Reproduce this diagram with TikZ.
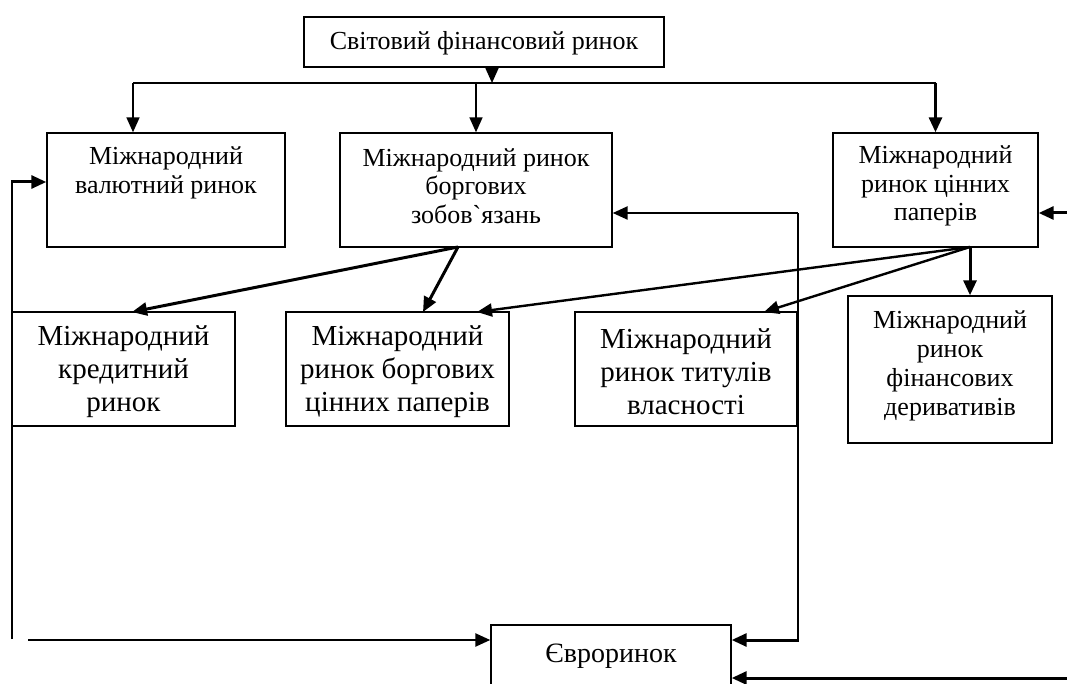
\documentclass[tikz,border=0pt]{standalone}
\usepackage{fontspec}
\setmainfont{Liberation Serif}
\usetikzlibrary{arrows.meta}
\begin{document}
\begin{tikzpicture}[x=1pt,y=-1pt,
  box/.style={draw, line width=1.4pt, inner sep=0pt},
  lbl/.style={align=center, inner sep=0pt},
  fa/.style={font=\fontsize{26}{28.5}\selectfont},
  fb/.style={font=\fontsize{29}{33}\selectfont},
  fc/.style={font=\fontsize{26}{29}\selectfont},
  fd/.style={font=\fontsize{28}{30}\selectfont},
  thinln/.style={line width=1.7pt},
  midln/.style={line width=2.4pt},
  thickln/.style={line width=3pt},
  arr/.style={-{Triangle[length=15pt,width=13pt]}}]
\useasboundingbox (0,0) rectangle (1067,684);
\clip (0,0) rectangle (1067,684);
% boxes
\node[box, minimum width=360pt, minimum height=50pt] (top) at (484,42) {};
\node[box, minimum width=238pt, minimum height=114pt] (b1) at (166,190) {};
\node[box, minimum width=272pt, minimum height=114pt] (b2) at (476,190) {};
\node[box, minimum width=205pt, minimum height=114pt] (b3) at (935.5,190) {};
\node[box, minimum width=223pt, minimum height=114pt] (b4) at (123.5,369) {};
\node[box, minimum width=223pt, minimum height=114pt] (b5) at (397.5,369) {};
\node[box, minimum width=222pt, minimum height=114pt] (b6) at (686,369) {};
\node[box, minimum width=204pt, minimum height=147pt] (b7) at (950,369.5) {};
\node[box, minimum width=240pt, minimum height=63pt] (eu) at (611,656.5) {};
% texts
\node[lbl, fa] (topt) at (484,43) {Світовий фінансовий ринок};
\node[lbl, fa] (b1t) at (166,173) {Міжнародний\\валютний ринок};
\node[lbl, fa] (b2t) at (476,186) {Міжнародний ринок\\боргових\\зобов\textasciigrave язань};
\node[lbl, fa] (b3t) at (935.5,186) {Міжнародний\\ринок цінних\\паперів};
\node[lbl, fb] (b4t) at (123.5,372) {Міжнародний\\кредитний\\ринок};
\node[lbl, fb] (b5t) at (397.5,372) {Міжнародний\\ринок боргових\\цінних паперів};
\node[lbl, fb] (b6t) at (686,372) {Міжнародний\\ринок титулів\\власності};
\node[lbl, fc] (b7t) at (950,366) {Міжнародний\\ринок\\фінансових\\деривативів};
\node[lbl, fd] (eut) at (611,656) {Євроринок};
% coordinates
\coordinate (busL) at (133,83);
\coordinate (busR) at (935.5,83);
\coordinate (busT) at (492,83);
\coordinate (la) at (12,182);
\coordinate (lz) at (12,639);
\coordinate (lb) at (28,640);
\coordinate (rc) at (798,213);
\coordinate (rd) at (798,640);
\coordinate (ra) at (1067,213);
\coordinate (rb) at (1067,678);
\coordinate (s2) at (458,247);
\coordinate (s3) at (970,247);
\coordinate (t4) at (132,312);
\coordinate (t5a) at (423,312);
\coordinate (t5b) at (477,312);
\coordinate (t6) at (764,312);
% top distribution
\draw[thinln, arr] (busT |- top.south) -- (busT);
\draw[thinln] (busL) -- (busR);
\draw[thinln, arr] (busL) -- (busL |- b1.north);
\draw[thinln, arr] (b2.north |- busL) -- (b2.north);
\draw[thickln, arr] (busR) -- (b3.north);
% left loop
\draw[thinln] (lz) -- (la);
\draw[thickln, arr] ([xshift=-0.8pt]la) -- (la -| b1.west);
\draw[midln, arr] (lb) -- (lb -| eu.west);
% right loop
\draw[midln, arr] (rc) -- (rc -| b2.east);
\draw[thinln] (rc) -- (rd);
\draw[thickln, arr] ([xshift=0.8pt]rd) -- (rd -| eu.east);
\draw[thickln, arr] (ra) -- (ra -| b3.east);
\draw[thickln, arr] (rb) -- (rb -| eu.east);
% diagonals
\draw[thickln, arr] (s2) -- (t4);
\draw[thickln, arr] (s2) -- (t5a);
\draw[midln, arr] (s3) -- (t5b);
\draw[midln, arr] (s3) -- (t6);
\draw[thickln, arr] (s3) -- (s3 |- b7.north);
\end{tikzpicture}
\end{document}
